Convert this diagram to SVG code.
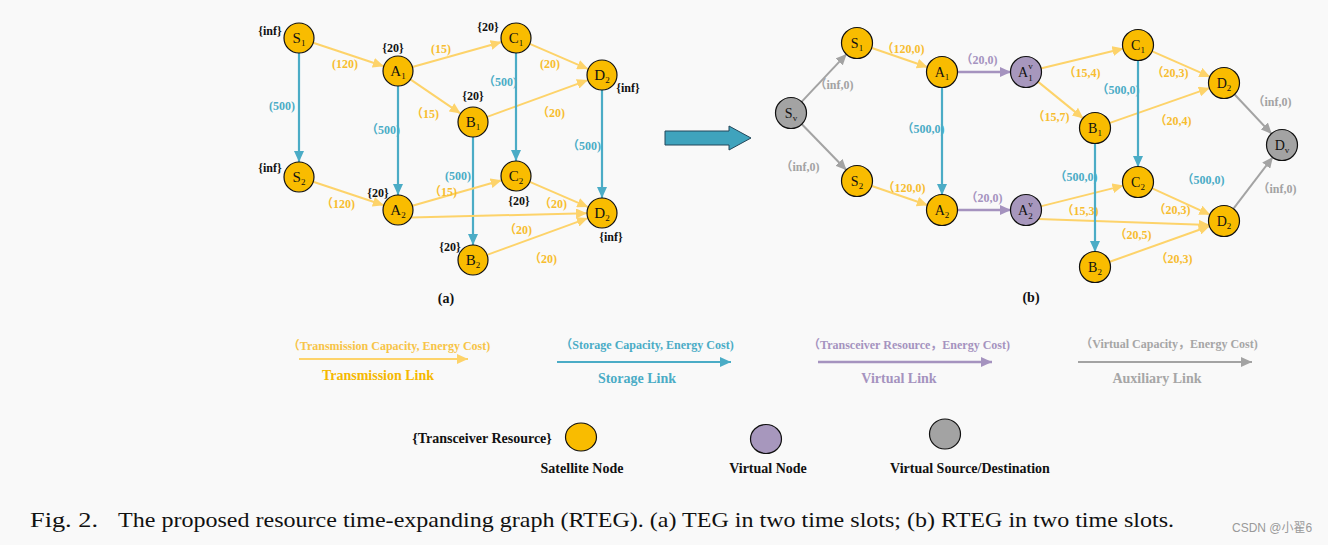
<svg xmlns="http://www.w3.org/2000/svg" width="1328" height="545" viewBox="0 0 1328 545">
<style>
text{font-family:"Liberation Serif","Noto Sans CJK SC",serif}
.bg{fill:#f9f9f9}
.sat{fill:#f9bc00;stroke:#111;stroke-width:1.2}
.vir{fill:#a797bd;stroke:#111;stroke-width:1.2}
.aux{fill:#a3a3a3;stroke:#111;stroke-width:1.2}
.nl{font-size:15px;fill:#111;text-anchor:middle}
.nlb{font-size:14px;fill:#111;text-anchor:middle}
.sub{font-size:9px}
.res{font-size:12px;font-weight:bold;fill:#111;text-anchor:middle}
.lab{font-size:12px;font-weight:bold;text-anchor:middle}
.o{fill:#f7bd30}
.b{fill:#4bacc6}
.p{fill:#a593bf}
.g{fill:#a3a3a3}
.eo{stroke:#fdd36a;stroke-width:2;fill:none;marker-end:url(#mo)}
.eb{stroke:#4bacc6;stroke-width:2.2;fill:none;marker-end:url(#mb)}
.ep{stroke:#a593bf;stroke-width:2.4;fill:none;marker-end:url(#mp)}
.eg{stroke:#a3a3a3;stroke-width:2;fill:none;marker-end:url(#mg)}
.cap{font-size:21px;fill:#111}
.lt{font-size:12px;font-weight:bold;text-anchor:middle}
.ln{font-size:14px;font-weight:bold;text-anchor:middle}
.leg{font-size:14px;font-weight:bold;fill:#111;text-anchor:middle}
</style>
<defs>
<marker id="mo" markerUnits="userSpaceOnUse" markerWidth="12" markerHeight="10" refX="11" refY="5" orient="auto"><path d="M0,0 L11,5 L0,10 z" fill="#fdd36a"/></marker>
<marker id="mb" markerUnits="userSpaceOnUse" markerWidth="12" markerHeight="10" refX="11" refY="5" orient="auto"><path d="M0,0 L11,5 L0,10 z" fill="#4bacc6"/></marker>
<marker id="mp" markerUnits="userSpaceOnUse" markerWidth="12" markerHeight="10" refX="11" refY="5" orient="auto"><path d="M0,0 L11,5 L0,10 z" fill="#a593bf"/></marker>
<marker id="mg" markerUnits="userSpaceOnUse" markerWidth="12" markerHeight="10" refX="11" refY="5" orient="auto"><path d="M0,0 L11,5 L0,10 z" fill="#a3a3a3"/></marker>
</defs>
<rect class="bg" x="0" y="0" width="1328" height="545"/>

<g id="connectors">
<!-- (a) -->
<line class="eo" x1="313.2" y1="42.7" x2="383.8" y2="66.3"/>
<line class="eo" x1="412.4" y1="67" x2="501.6" y2="42"/>
<line class="eo" x1="410.4" y1="79.4" x2="460.6" y2="113.6"/>
<line class="eo" x1="529.8" y1="43.9" x2="588.2" y2="69.1"/>
<line class="eo" x1="487.1" y1="116.9" x2="587.9" y2="80.1"/>
<line class="eb" x1="299" y1="53" x2="299" y2="162"/>
<line class="eb" x1="398" y1="86" x2="398" y2="195"/>
<line class="eb" x1="516" y1="53" x2="516" y2="161"/>
<line class="eb" x1="602" y1="90" x2="602" y2="198"/>
<line class="eb" x1="473" y1="137" x2="473" y2="245"/>
<line class="eo" x1="313.2" y1="181.7" x2="383.8" y2="205.3"/>
<line class="eo" x1="412.4" y1="205.8" x2="501.6" y2="180.2"/>
<line class="eo" x1="411" y1="217.4" x2="587" y2="213.3"/>
<line class="eo" x1="529.8" y1="181.9" x2="588.2" y2="207.1"/>
<line class="eo" x1="487.1" y1="254.9" x2="587.9" y2="218.1"/>
<!-- (b) -->
<line class="eg" x1="801.3" y1="102.1" x2="846.7" y2="53.9"/>
<line class="eg" x1="801.4" y1="123.8" x2="846.6" y2="170.2"/>
<line class="eo" x1="871.2" y1="47.8" x2="927.8" y2="67.2"/>
<line class="eo" x1="871.2" y1="185.8" x2="927.8" y2="205.2"/>
<line class="ep" x1="957" y1="72" x2="1011" y2="72"/>
<line class="ep" x1="957" y1="210" x2="1011" y2="210"/>
<line class="eb" x1="942" y1="87" x2="942" y2="195"/>
<line class="eo" x1="1040.6" y1="68.5" x2="1123.4" y2="48.5"/>
<line class="eo" x1="1037.6" y1="81.4" x2="1083.4" y2="118.6"/>
<line class="eo" x1="1151.7" y1="51.1" x2="1210.3" y2="76.9"/>
<line class="eo" x1="1109.2" y1="123.1" x2="1209.8" y2="87.9"/>
<line class="eb" x1="1138" y1="60" x2="1138" y2="167"/>
<line class="eo" x1="1040.6" y1="206.4" x2="1123.4" y2="185.6"/>
<line class="eo" x1="1038" y1="219" x2="1209.5" y2="225"/>
<line class="eo" x1="1151.7" y1="188.2" x2="1210.3" y2="214.8"/>
<line class="eo" x1="1109.1" y1="262" x2="1209.9" y2="226"/>
<line class="eg" x1="1234.2" y1="94" x2="1271.8" y2="134"/>
<line class="eg" x1="1233.1" y1="209.1" x2="1272.9" y2="156.9"/>

<!-- edge labels (a) -->
<text class="lab o" x="345" y="68">(120)</text>
<text class="lab o" x="441" y="53">(15)</text>
<text class="lab o" x="425" y="118">（15)</text>
<text class="lab b" x="282" y="110">(500)</text>
<text class="lab b" x="383" y="134">（500)</text>
<text class="lab b" x="500" y="86">（500)</text>
<text class="lab o" x="550" y="68">(20)</text>
<text class="lab o" x="551" y="117">（20)</text>
<text class="lab b" x="584" y="150">（500)</text>
<text class="lab b" x="458" y="180">(500)</text>
<text class="lab o" x="443" y="196">（15)</text>
<text class="lab o" x="338" y="208">（120)</text>
<text class="lab o" x="553" y="208">（20)</text>
<text class="lab o" x="518" y="234">（20)</text>
<text class="lab o" x="543" y="263">（20)</text>
<!-- edge labels (b) -->
<text class="lab g" x="834" y="89">（inf,0)</text>
<text class="lab o" x="903" y="53">（120,0)</text>
<text class="lab p" x="979" y="64">（20,0)</text>
<text class="lab b" x="923" y="133">（500,0)</text>
<text class="lab g" x="800" y="171">（inf,0)</text>
<text class="lab o" x="904" y="192">（120,0)</text>
<text class="lab p" x="984" y="202">（20,0)</text>
<text class="lab o" x="1082" y="77">（15,4)</text>
<text class="lab o" x="1170" y="77">（20,3)</text>
<text class="lab b" x="1118" y="94">（500,0)</text>
<text class="lab o" x="1051" y="121">（15,7)</text>
<text class="lab o" x="1173" y="125">（20,4)</text>
<text class="lab g" x="1272" y="106">（inf,0)</text>
<text class="lab b" x="1076" y="181">（500,0)</text>
<text class="lab b" x="1203" y="184">（500,0)</text>
<text class="lab o" x="1080" y="215">（15,3)</text>
<text class="lab o" x="1172" y="214">（20,3)</text>
<text class="lab o" x="1133" y="239">（20,5)</text>
<text class="lab o" x="1174" y="263">（20,3)</text>
<text class="lab g" x="1277" y="193">（inf,0)</text>
<line class="eb" x1="1095" y1="143" x2="1095" y2="252"/>
</g>

<!-- (a) nodes -->
<g id="a-S1"><circle class="sat" cx="299" cy="38" r="15"/><text class="nl" x="299" y="43">S<tspan class="sub" dy="3">1</tspan></text><text class="res" x="270" y="35">{inf}</text></g>
<g id="a-A1"><circle class="sat" cx="398" cy="71" r="15"/><text class="nl" x="398" y="76">A<tspan class="sub" dy="3">1</tspan></text><text class="res" x="393" y="52">{20}</text></g>
<g id="a-C1"><circle class="sat" cx="516" cy="38" r="15"/><text class="nl" x="516" y="43">C<tspan class="sub" dy="3">1</tspan></text><text class="res" x="488" y="31">{20}</text></g>
<g id="a-D2top"><circle class="sat" cx="602" cy="75" r="15"/><text class="nl" x="602" y="80">D<tspan class="sub" dy="3">2</tspan></text><text class="res" x="628" y="92">{inf}</text></g>
<g id="a-B1"><circle class="sat" cx="473" cy="122" r="15"/><text class="nl" x="473" y="127">B<tspan class="sub" dy="3">1</tspan></text><text class="res" x="473" y="100">{20}</text></g>
<g id="a-S2"><circle class="sat" cx="299" cy="177" r="15"/><text class="nl" x="299" y="182">S<tspan class="sub" dy="3">2</tspan></text><text class="res" x="270" y="172">{inf}</text></g>
<g id="a-A2"><circle class="sat" cx="398" cy="210" r="15"/><text class="nl" x="398" y="215">A<tspan class="sub" dy="3">2</tspan></text><text class="res" x="378" y="197">{20}</text></g>
<g id="a-C2"><circle class="sat" cx="516" cy="176" r="15"/><text class="nl" x="516" y="181">C<tspan class="sub" dy="3">2</tspan></text><text class="res" x="519" y="205">{20}</text></g>
<g id="a-D2"><circle class="sat" cx="602" cy="213" r="15"/><text class="nl" x="602" y="218">D<tspan class="sub" dy="3">2</tspan></text><text class="res" x="611" y="241">{inf}</text></g>
<g id="a-B2"><circle class="sat" cx="473" cy="260" r="15"/><text class="nl" x="473" y="265">B<tspan class="sub" dy="3">2</tspan></text><text class="res" x="450" y="251">{20}</text></g>
<text x="446" y="303" font-size="14" font-weight="bold" text-anchor="middle" fill="#111">(a)</text>

<g id="big-arrow"><polygon points="665,131 729,131 729,126 751,138 729,150 729,145 665,145" fill="#3fa3bd" stroke="#23475a" stroke-width="1"/></g>

<!-- (b) nodes -->
<g id="b-Sv"><circle class="aux" cx="791" cy="113" r="15.5"/><text class="nlb" x="791" y="118">S<tspan class="sub" font-size="8" dy="3">v</tspan></text></g>
<g id="b-S1"><circle class="sat" cx="857" cy="43" r="15.5"/><text class="nlb" x="857" y="48">S<tspan class="sub" dy="3">1</tspan></text></g>
<g id="b-A1"><circle class="sat" cx="942" cy="72" r="15.5"/><text class="nlb" x="942" y="77">A<tspan class="sub" dy="3">1</tspan></text></g>
<g id="b-A1v"><circle class="vir" cx="1026" cy="72" r="15.5"/><text x="1018" y="77" font-size="14" fill="#111">A<tspan font-size="9" dy="-8">v</tspan><tspan font-size="9" x="1028.2" dy="12">1</tspan></text></g>
<g id="b-C1"><circle class="sat" cx="1138" cy="45" r="15.5"/><text class="nlb" x="1138" y="50">C<tspan class="sub" dy="3">1</tspan></text></g>
<g id="b-D2top"><circle class="sat" cx="1224" cy="83" r="15.5"/><text class="nlb" x="1224" y="88" font-size="15">D<tspan class="sub" font-size="11" dy="3">2</tspan></text></g>
<g id="b-B1"><circle class="sat" cx="1095" cy="128" r="15.5"/><text class="nlb" x="1095" y="133">B<tspan class="sub" dy="3">1</tspan></text></g>
<g id="b-Dv"><circle class="aux" cx="1282" cy="145" r="15.5"/><text class="nlb" x="1282" y="150">D<tspan class="sub" font-size="8" dy="3">v</tspan></text></g>
<g id="b-S2"><circle class="sat" cx="857" cy="181" r="15.5"/><text class="nlb" x="857" y="186">S<tspan class="sub" dy="3">2</tspan></text></g>
<g id="b-A2"><circle class="sat" cx="942" cy="210" r="15.5"/><text class="nlb" x="942" y="215">A<tspan class="sub" dy="3">2</tspan></text></g>
<g id="b-A2v"><circle class="vir" cx="1026" cy="210" r="15.5"/><text x="1018" y="215" font-size="14" fill="#111">A<tspan font-size="9" dy="-8">v</tspan><tspan font-size="9" x="1028.2" dy="12">2</tspan></text></g>
<g id="b-C2"><circle class="sat" cx="1138" cy="182" r="15.5"/><text class="nlb" x="1138" y="187">C<tspan class="sub" dy="3">2</tspan></text></g>
<g id="b-D2"><circle class="sat" cx="1224" cy="221" r="15.5"/><text class="nlb" x="1224" y="226" font-size="15">D<tspan class="sub" font-size="11" dy="3">2</tspan></text></g>
<g id="b-B2"><circle class="sat" cx="1095" cy="267" r="15.5"/><text class="nlb" x="1095" y="272">B<tspan class="sub" dy="3">2</tspan></text></g>
<text x="1031" y="302" font-size="14" font-weight="bold" text-anchor="middle" fill="#111">(b)</text>

<!-- legend -->
<g id="legend-links">
<text class="lt" x="389" y="350" fill="#f7c447">（Transmission Capacity, Energy Cost)</text>
<line class="eo" x1="299" y1="359" x2="468" y2="359" stroke-width="2.5"/>
<text class="ln" x="378" y="380" fill="#f5b800">Transmission Link</text>
<text class="lt" x="647" y="349" fill="#4bacc6">（Storage Capacity, Energy Cost)</text>
<line class="eb" x1="557" y1="362" x2="731" y2="362" stroke-width="2.5"/>
<text class="ln" x="637" y="383" fill="#4bacc6">Storage Link</text>
<text class="lt" x="909" y="349" fill="#a593bf">（Transceiver Resource，Energy Cost)</text>
<line class="ep" x1="818" y1="362" x2="992" y2="362"/>
<text class="ln" x="899" y="383" fill="#a593bf">Virtual Link</text>
<text class="lt" x="1169" y="348" fill="#a6a6a6">（Virtual Capacity，Energy Cost)</text>
<line class="eg" x1="1078" y1="362" x2="1252" y2="362" stroke-width="2.5"/>
<text class="ln" x="1157" y="383" fill="#a6a6a6">Auxiliary Link</text>
</g>
<g id="legend-nodes">
<text class="leg" x="482" y="443">{Transceiver Resource}</text>
<ellipse class="sat" cx="581" cy="437" rx="15.5" ry="14"/>
<text class="leg" x="582" y="473">Satellite Node</text>
<ellipse class="vir" cx="766" cy="439" rx="15.5" ry="14.5"/>
<text class="leg" x="768" y="473">Virtual Node</text>
<ellipse class="aux" cx="945" cy="434" rx="15.5" ry="15"/>
<text class="leg" x="970" y="473">Virtual Source/Destination</text>
</g>

<text class="cap" x="30" y="527" textLength="68" lengthAdjust="spacingAndGlyphs">Fig. 2.</text>
<text class="cap" x="118" y="527" textLength="1056" lengthAdjust="spacingAndGlyphs">The proposed resource time-expanding graph (RTEG). (a) TEG in two time slots; (b) RTEG in two time slots.</text>
<text x="1232" y="532" font-size="12" fill="#9a9a9a" style="font-family:'Liberation Sans','Noto Sans CJK SC',sans-serif">CSDN @小翟6</text>
</svg>
